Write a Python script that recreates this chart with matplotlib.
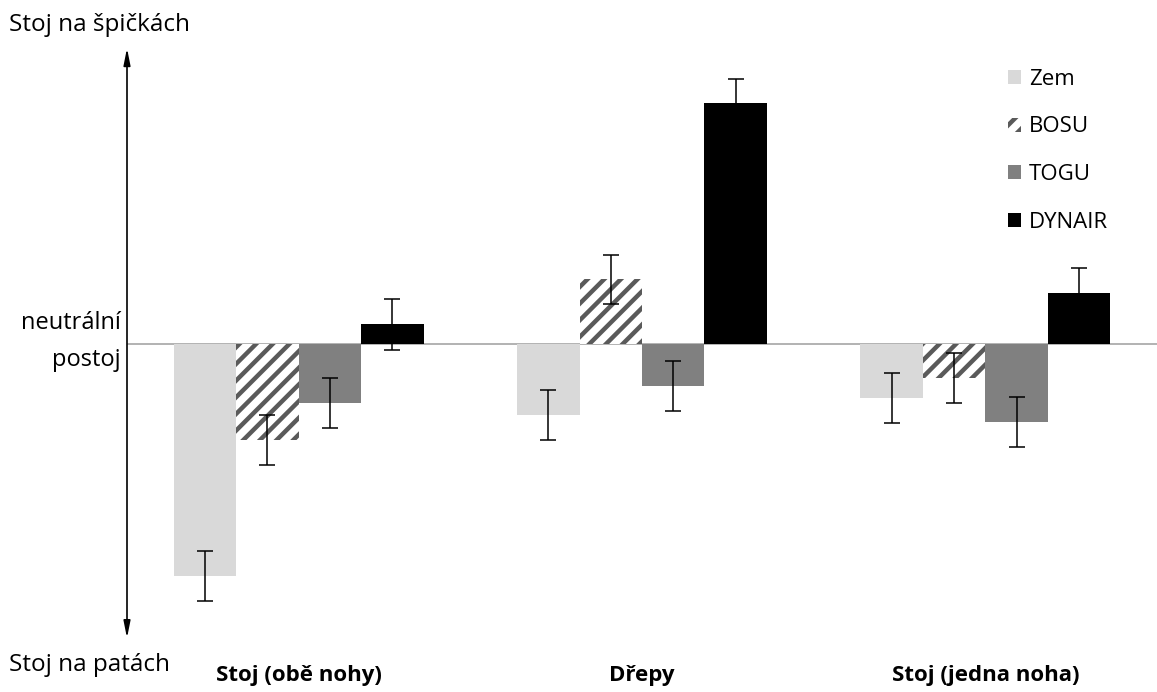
import matplotlib.pyplot as plt
import numpy as np

plt.rcParams['font.family'] = ['Open Sans', 'DejaVu Sans']
plt.rcParams['hatch.linewidth'] = 3.2

groups = ["Stoj (obě nohy)", "Dřepy", "Stoj (jedna noha)"]
series = ["Zem", "BOSU", "TOGU", "DYNAIR"]
zem = [-2.32, -0.71, -0.54]
bosu = [-0.96, 0.65, -0.34]
togu = [-0.59, -0.42, -0.78]
dynair = [0.20, 2.41, 0.51]
err_zem = [0.25, 0.25, 0.25]
err_bosu = [0.25, 0.245, 0.25]
err_togu = [0.25, 0.25, 0.25]
err_dynair = [0.255, 0.245, 0.255]

values = [zem, bosu, togu, dynair]
errors = [err_zem, err_bosu, err_togu, err_dynair]
colors = ["#d9d9d9", "white", "#808080", "#000000"]
hatches = [None, "//", None, None]

fig = plt.figure(figsize=(11.57, 6.92), dpi=100)
ax = fig.add_axes([127 / 1157, 54 / 692, 1 - 127 / 1157, 588 / 692])

x = np.arange(len(groups))
w = 0.182
for i, (vals, errs) in enumerate(zip(values, errors)):
    pos = x + (i - 1.5) * w
    ax.bar(pos, vals, w, color=colors[i], hatch=hatches[i],
           edgecolor="#5a5a5a" if hatches[i] else colors[i],
           linewidth=0, label=series[i], zorder=2)
    ax.errorbar(pos, vals, yerr=errs, fmt="none", ecolor="black",
                elinewidth=1.1, capsize=6, capthick=1.1, zorder=3)

ax.axhline(0, color="#a6a6a6", lw=1.2, zorder=1)
ax.set_xlim(-0.5, 2.5)
ax.set_ylim(-2.94, 2.94)
for s in ax.spines.values():
    s.set_visible(False)
ax.set_xticks([])
ax.set_yticks([])

# double arrow on the left
ax.annotate("", xy=(0, 1.003), xytext=(0, 0), xycoords="axes fraction",
            arrowprops=dict(arrowstyle="<|-|>,head_length=1.0,head_width=0.2",
                            color="black", lw=1.2, shrinkA=0, shrinkB=0),
            annotation_clip=False)

fig.text(9 / 1157, 1 - 25 / 692, "Stoj na špičkách", fontsize=17.5, va="center", ha="left")
fig.text(9 / 1157, 1 - 665 / 692, "Stoj na patách", fontsize=17.5, va="center", ha="left")
fig.text(121 / 1157, 1 - 323 / 692, "neutrální", fontsize=17, va="center", ha="right")
fig.text(121 / 1157, 1 - 360 / 692, "postoj", fontsize=17, va="center", ha="right")

for xi, g in zip(x, groups):
    ax.text(xi, -3.32, g, fontsize=16, fontweight="bold",
            ha="center", va="center", clip_on=False)

leg = ax.legend(loc="upper left", bbox_to_anchor=(0.855, 0.968), frameon=False,
                fontsize=16, handlelength=0.6, handleheight=0.6,
                handletextpad=0.35, labelspacing=1.2, borderpad=0,
                borderaxespad=0)

fig.savefig("out.png", dpi=100)
